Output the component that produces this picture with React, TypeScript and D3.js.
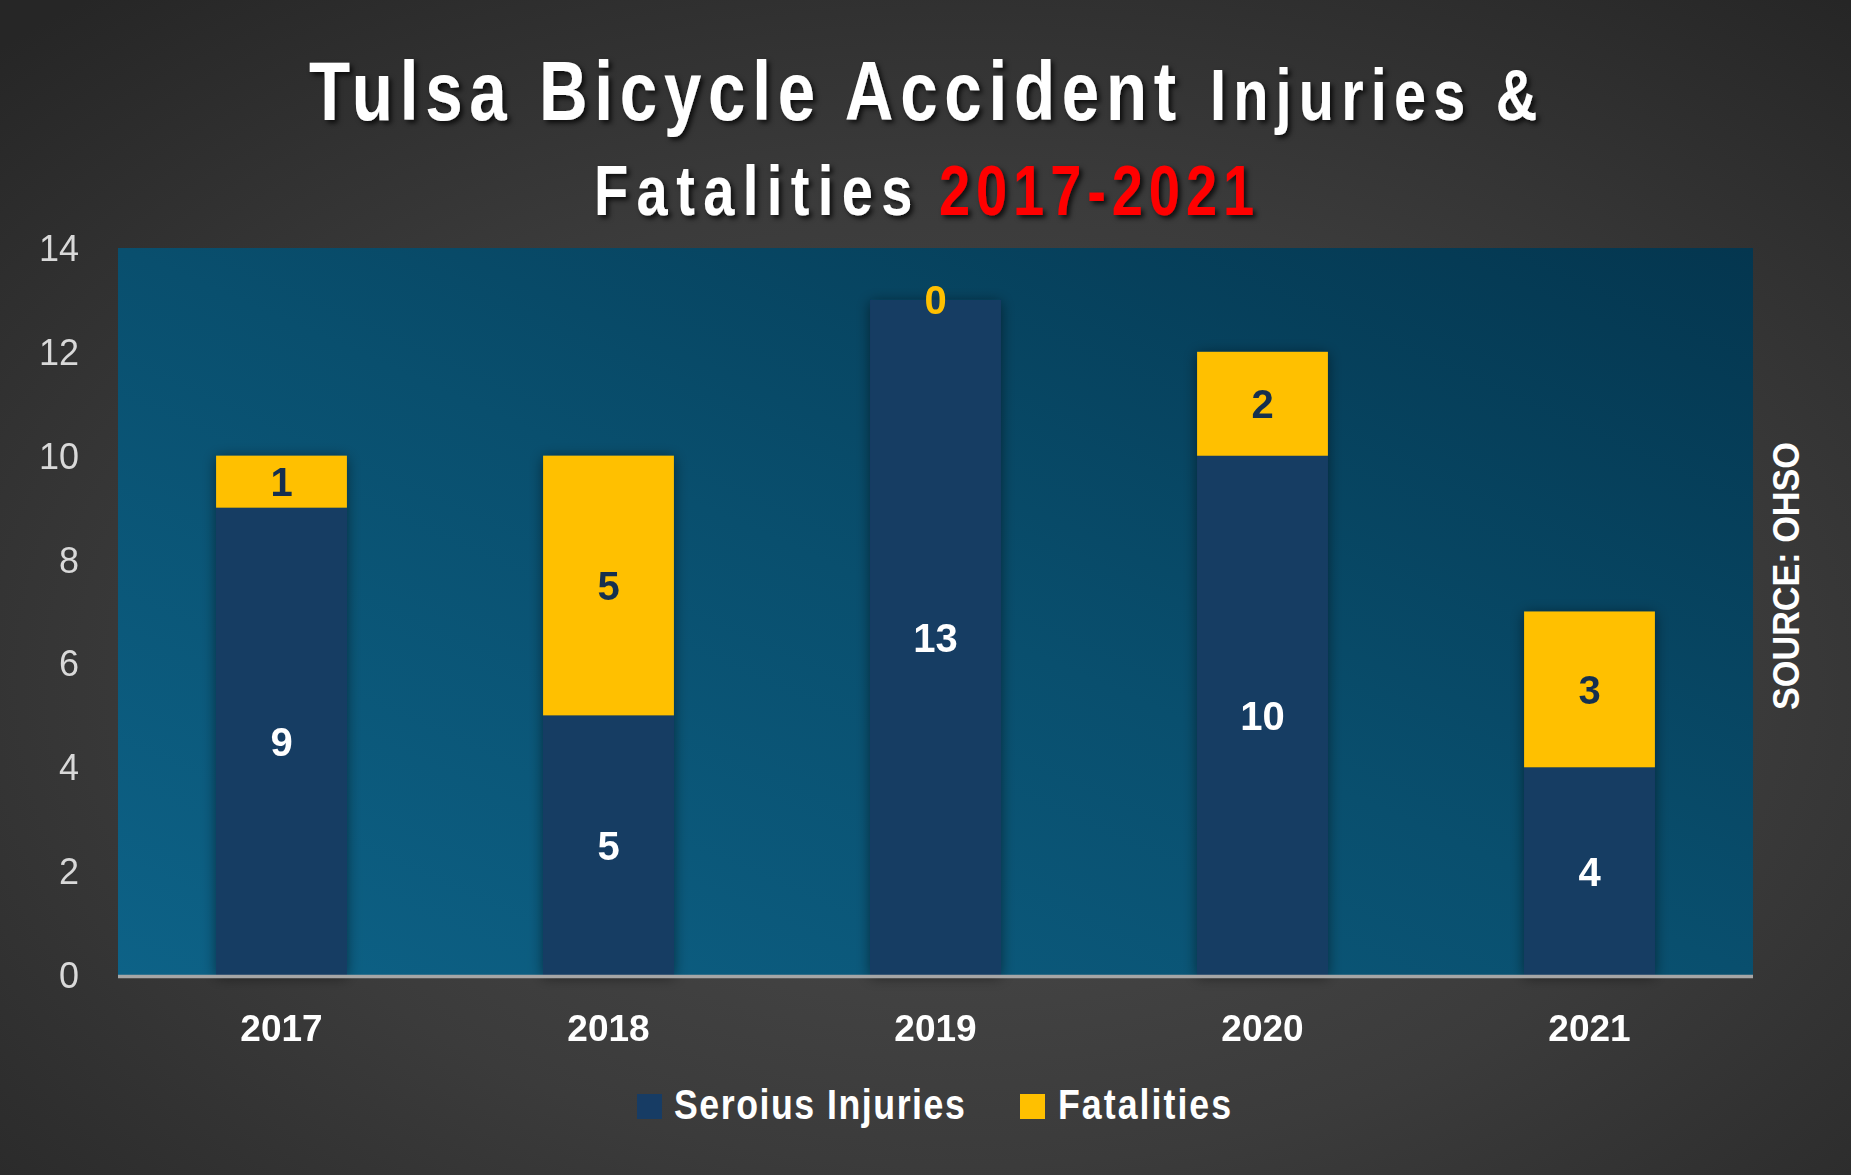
import * as d3 from 'd3';

const YEARS = ['2017', '2018', '2019', '2020', '2021'];
const SERIOUS = [9, 5, 13, 10, 4];
const FATALITIES = [1, 5, 0, 2, 3];
const Y_TICKS = [0, 2, 4, 6, 8, 10, 12, 14];
const SERIES_NAMES = ['Seroius Injuries', 'Fatalities'];

const W = 1851;
const H = 1175;
const NAVY = '#173c64';
const GOLD = '#ffc000';
const LABEL_DARK = '#15304f';
const SANS = '"Liberation Sans", Arial, sans-serif';

export default function App() {
  const margin = { top: 248, right: 98, bottom: 200, left: 118 };
  const innerW = W - margin.left - margin.right;
  const innerH = H - margin.top - margin.bottom;

  const rows = YEARS.map((year, i) => ({ year, serious: SERIOUS[i], fatal: FATALITIES[i] }));
  const stack = d3.stack<any>().keys(['serious', 'fatal'])(rows);

  const x = d3.scaleBand<string>()
    .domain(YEARS)
    .range([0, innerW])
    .paddingInner(0.6)
    .paddingOuter(0.3);

  const y = d3.scaleLinear()
    .domain([0, 14])
    .range([innerH, 0]);

  const colors = [NAVY, GOLD];
  const labelColors = ['#ffffff', LABEL_DARK];

  return (
    <svg width={W} height={H} style={{ position: 'absolute', left: 0, top: 0, display: 'block' }}>
      <defs>
        <radialGradient id="bg" cx="0.52" cy="0.58" r="0.75">
          <stop offset="0" stopColor="#4d4d4d" />
          <stop offset="0.55" stopColor="#3b3b3b" />
          <stop offset="1" stopColor="#262626" />
        </radialGradient>
        <linearGradient id="plotBg" x1="0" y1="1" x2="1" y2="0">
          <stop offset="0" stopColor="#0d6287" />
          <stop offset="0.5" stopColor="#094f6e" />
          <stop offset="1" stopColor="#04364f" />
        </linearGradient>
        <filter id="barShadow" x="-30%" y="-10%" width="160%" height="120%">
          <feDropShadow dx="0" dy="2" stdDeviation="7" floodColor="#000" floodOpacity="0.5" />
        </filter>
        <filter id="titleShadow" x="-5%" y="-20%" width="110%" height="150%">
          <feDropShadow dx="3" dy="3" stdDeviation="2.5" floodColor="#000" floodOpacity="0.75" />
        </filter>
      </defs>

      <rect width={W} height={H} fill="url(#bg)" />

      {/* Title: squeezed glyphs + letter spacing for the condensed look */}
      <g filter="url(#titleShadow)" fontFamily={SANS} fontWeight={700} fill="#fff">
        <text transform="translate(309,120) scale(0.8,1)" fontSize={84} letterSpacing={8.5}>
          Tulsa Bicycle Accident
        </text>
        <text transform="translate(1210,120) scale(0.8,1)" fontSize={72} letterSpacing={9}>
          Injuries &amp;
        </text>
        <text transform="translate(594,215) scale(0.8,1)" fontSize={70} letterSpacing={10.5}>
          Fatalities
        </text>
        <text transform="translate(939,215) scale(0.8,1)" fontSize={70} letterSpacing={7.4} fill="#ff0000">
          2017-2021
        </text>
      </g>

      <g transform={`translate(${margin.left},${margin.top})`}>
        <rect width={innerW} height={innerH} fill="url(#plotBg)" />

        {/* Stacked bars */}
        {YEARS.map((year, i) => (
          <g key={year} filter="url(#barShadow)">
            {stack.map((s, k) => {
              const [y0, y1] = s[i];
              return (
                <rect
                  key={s.key}
                  x={x(year)}
                  y={y(y1)}
                  width={x.bandwidth()}
                  height={y(y0) - y(y1)}
                  fill={colors[k]}
                />
              );
            })}
          </g>
        ))}

        {/* Value labels */}
        {YEARS.map((year, i) =>
          stack.map((s, k) => {
            const [y0, y1] = s[i];
            const v = y1 - y0;
            const cy = v === 0 ? y(y1) : (y(y0) + y(y1)) / 2;
            return (
              <text
                key={`${year}-${s.key}`}
                x={(x(year) ?? 0) + x.bandwidth() / 2}
                y={cy + 14.5}
                textAnchor="middle"
                fontFamily={SANS}
                fontWeight={700}
                fontSize={40}
                fill={v === 0 ? GOLD : labelColors[k]}
              >
                {v}
              </text>
            );
          })
        )}

        {/* X axis line */}
        <line x1={0} x2={innerW} y1={innerH + 1.5} y2={innerH + 1.5} stroke="#a6a6a6" strokeWidth={3.5} />

        {/* Y tick labels */}
        {Y_TICKS.map(t => (
          <text
            key={t}
            x={-39}
            y={y(t) + 13}
            textAnchor="end"
            fontFamily={SANS}
            fontSize={36}
            fill="#d9d9d9"
          >
            {t}
          </text>
        ))}

        {/* X tick labels */}
        {YEARS.map(year => (
          <text
            key={year}
            x={(x(year) ?? 0) + x.bandwidth() / 2}
            y={innerH + 66}
            textAnchor="middle"
            fontFamily={SANS}
            fontWeight={700}
            fontSize={37}
            fill="#fff"
          >
            {year}
          </text>
        ))}
      </g>

      {/* Legend */}
      <g fontFamily={SANS} fontWeight={700} fontSize={42} fill="#fff">
        <rect x={637} y={1094} width={25} height={25} fill={NAVY} />
        <text transform="translate(674,1119) scale(0.85,1)" letterSpacing={1.8}>{SERIES_NAMES[0]}</text>
        <rect x={1020} y={1094} width={25} height={25} fill={GOLD} />
        <text transform="translate(1058,1119) scale(0.85,1)" letterSpacing={2.4}>{SERIES_NAMES[1]}</text>
      </g>

      {/* Source */}
      <text
        transform="translate(1799,576) rotate(-90) scale(0.95,1)"
        textAnchor="middle"
        fontFamily={SANS}
        fontWeight={700}
        fontSize={36}
        fill="#fff"
      >
        SOURCE: OHSO
      </text>
    </svg>
  );
}
